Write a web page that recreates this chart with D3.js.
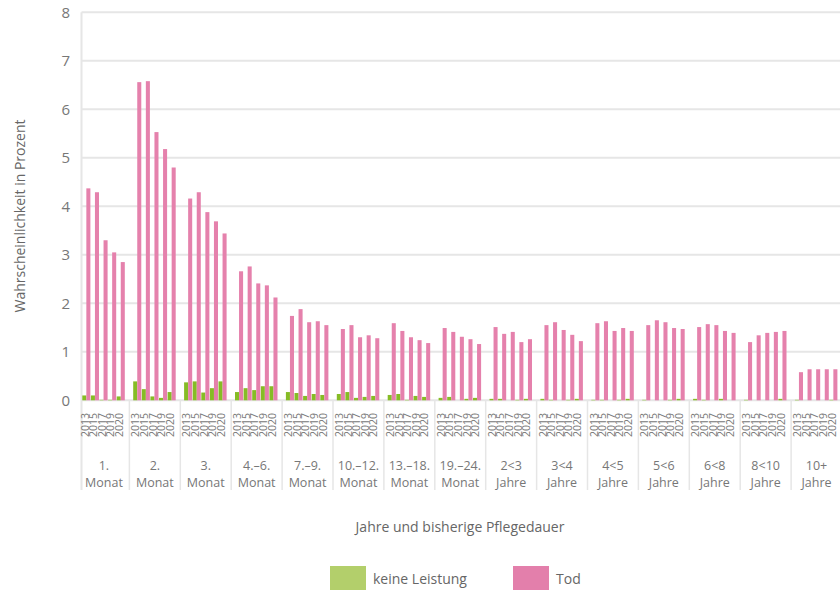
<!DOCTYPE html>
<html>
<head>
<meta charset="utf-8">
<script src="https://cdn.jsdelivr.net/npm/d3@7"></script>
<style>
  body { margin: 0; background: #fff; }
  svg { font-family: "Open Sans", sans-serif; display: block; }
</style>
</head>
<body>
<svg id="chart" width="840" height="590"></svg>
<script>
// categories
const groupLabels = [
    ["1.", "Monat"], ["2.", "Monat"], ["3.", "Monat"], ["4.–6.", "Monat"],
    ["7.–9.", "Monat"], ["10.–12.", "Monat"], ["13.–18.", "Monat"], ["19.–24.", "Monat"],
    ["2<3", "Jahre"], ["3<4", "Jahre"], ["4<5", "Jahre"], ["5<6", "Jahre"],
    ["6<8", "Jahre"], ["8<10", "Jahre"], ["10+", "Jahre"]
];
const years = ["2013", "2015", "2017", "2019", "2020"];
const yTicks = [0, 1, 2, 3, 4, 5, 6, 7, 8];
const seriesNames = ["keine Leistung", "Tod"];

// values per group, one per year
const keineLeistung = [
    [0.10, 0.10, 0.01, 0.01, 0.08],
    [0.39, 0.23, 0.08, 0.05, 0.17],
    [0.37, 0.39, 0.16, 0.25, 0.39],
    [0.17, 0.25, 0.21, 0.29, 0.29],
    [0.17, 0.15, 0.09, 0.13, 0.11],
    [0.13, 0.17, 0.05, 0.07, 0.09],
    [0.11, 0.13, 0.01, 0.09, 0.07],
    [0.05, 0.07, 0.00, 0.03, 0.05],
    [0.03, 0.03, 0.00, 0.01, 0.03],
    [0.03, 0.01, 0.00, 0.01, 0.03],
    [0.01, 0.01, 0.00, 0.01, 0.03],
    [0.01, 0.00, 0.00, 0.01, 0.03],
    [0.03, 0.01, 0.00, 0.03, 0.00],
    [0.01, 0.00, 0.00, 0.00, 0.03],
    [0.01, 0.00, 0.00, 0.00, 0.01]
];
const tod = [
    [4.37, 4.29, 3.30, 3.05, 2.85],
    [6.56, 6.58, 5.53, 5.18, 4.80],
    [4.16, 4.29, 3.88, 3.69, 3.44],
    [2.66, 2.76, 2.41, 2.37, 2.12],
    [1.74, 1.88, 1.61, 1.63, 1.55],
    [1.47, 1.55, 1.30, 1.34, 1.28],
    [1.59, 1.43, 1.30, 1.24, 1.18],
    [1.49, 1.41, 1.31, 1.26, 1.16],
    [1.51, 1.37, 1.41, 1.20, 1.26],
    [1.55, 1.61, 1.45, 1.35, 1.22],
    [1.59, 1.63, 1.43, 1.49, 1.43],
    [1.55, 1.65, 1.61, 1.49, 1.47],
    [1.51, 1.57, 1.55, 1.43, 1.39],
    [1.20, 1.34, 1.39, 1.41, 1.43],
    [0.58, 0.64, 0.64, 0.64, 0.64]
];

const colors = { bar: ["#86bc25", "#e581ac"], legend: ["#b3cf6b", "#e37fab"] };
const textColor = "#777";
const gridColor = "#e6e6e6";

const width = 840;
const axisX = 81.5;
const labelBottom = 490;

let svg = d3.select("#chart");

let yScale = d3.scaleLinear().domain([0, 8]).range([400.3, 12.3]);

let x0 = d3.scaleBand()
    .domain(d3.range(groupLabels.length))
    .range([78.5, 842]);

let x1 = d3.scaleBand()
    .domain(years)
    .range([3.8, 46.3])
    .paddingInner(0.06);

let barW = x1.bandwidth() / 2;

// grid
svg.append("g").attr("class", "grid").selectAll("line")
    .data(yTicks).enter()
    .append("line")
    .attr("x1", axisX)
    .attr("x2", width)
    .attr("y1", d => yScale(d))
    .attr("y2", d => yScale(d))
    .attr("stroke", gridColor)
    .attr("stroke-width", 2);

// y axis line
svg.append("line")
    .attr("x1", axisX).attr("x2", axisX)
    .attr("y1", yScale(8)).attr("y2", labelBottom)
    .attr("stroke", gridColor)
    .attr("stroke-width", 2);

// group separators
svg.append("g").selectAll("line")
    .data(d3.range(1, groupLabels.length + 1)).enter()
    .append("line")
    .attr("x1", d => x0(d - 1) + x0.bandwidth())
    .attr("x2", d => x0(d - 1) + x0.bandwidth())
    .attr("y1", yScale(0))
    .attr("y2", labelBottom)
    .attr("stroke", gridColor)
    .attr("stroke-width", 1.5);

// y ticks
svg.append("g").selectAll("text")
    .data(yTicks).enter()
    .append("text")
    .attr("x", 70)
    .attr("y", d => yScale(d))
    .attr("dy", "0.36em")
    .attr("text-anchor", "end")
    .attr("fill", textColor)
    .style("font-size", "15px")
    .text(d => d);

// bars
let rows = [];
groupLabels.forEach((g, gi) => {
    years.forEach((yr, yi) => {
        rows.push({ g: gi, year: yr, s: 0, v: keineLeistung[gi][yi] });
        rows.push({ g: gi, year: yr, s: 1, v: tod[gi][yi] });
    });
});

svg.append("g").attr("class", "bars").selectAll("rect")
    .data(rows).enter()
    .append("rect")
    .attr("x", d => x0(d.g) + x1(d.year) + d.s * barW)
    .attr("width", barW)
    .attr("y", d => yScale(d.v))
    .attr("height", d => yScale(0) - yScale(d.v))
    .attr("fill", d => colors.bar[d.s]);

// year labels
let yearRows = [];
groupLabels.forEach((g, gi) => years.forEach(yr => yearRows.push({ g: gi, year: yr })));

svg.append("g").selectAll("text")
    .data(yearRows).enter()
    .append("text")
    .attr("transform", d => `translate(${x0(d.g) + x1(d.year) + barW * 0.6},413) rotate(-90)`)
    .attr("text-anchor", "end")
    .attr("dy", "0.36em")
    .attr("fill", textColor)
    .style("font-size", "10.5px")
    .text(d => d.year);

// group labels, two lines each
[0, 1].forEach(line => {
    svg.append("g").selectAll("text")
        .data(groupLabels).enter()
        .append("text")
        .attr("x", (d, i) => x0(i) + x0.bandwidth() / 2)
        .attr("y", line === 0 ? 469.5 : 487)
        .attr("text-anchor", "middle")
        .attr("fill", textColor)
        .style("font-size", "12.5px")
        .text(d => d[line]);
});

// axis titles
svg.append("text")
    .attr("transform", "translate(24.5,216) rotate(-90)")
    .attr("text-anchor", "middle")
    .attr("fill", "#666")
    .style("font-size", "14px")
    .text("Wahrscheinlichkeit in Prozent");

svg.append("text")
    .attr("x", 460)
    .attr("y", 532)
    .attr("text-anchor", "middle")
    .attr("fill", "#666")
    .style("font-size", "14px")
    .text("Jahre und bisherige Pflegedauer");

// legend
let legendX = [330, 513];
let lg = svg.append("g").selectAll("g")
    .data(seriesNames).enter()
    .append("g")
    .attr("transform", (d, i) => `translate(${legendX[i]},566)`);

lg.append("rect")
    .attr("width", 36)
    .attr("height", 24)
    .attr("fill", (d, i) => colors.legend[i]);

lg.append("text")
    .attr("x", 43)
    .attr("y", 18)
    .attr("fill", "#666")
    .style("font-size", "14px")
    .text(d => d);
</script>
</body>
</html>
